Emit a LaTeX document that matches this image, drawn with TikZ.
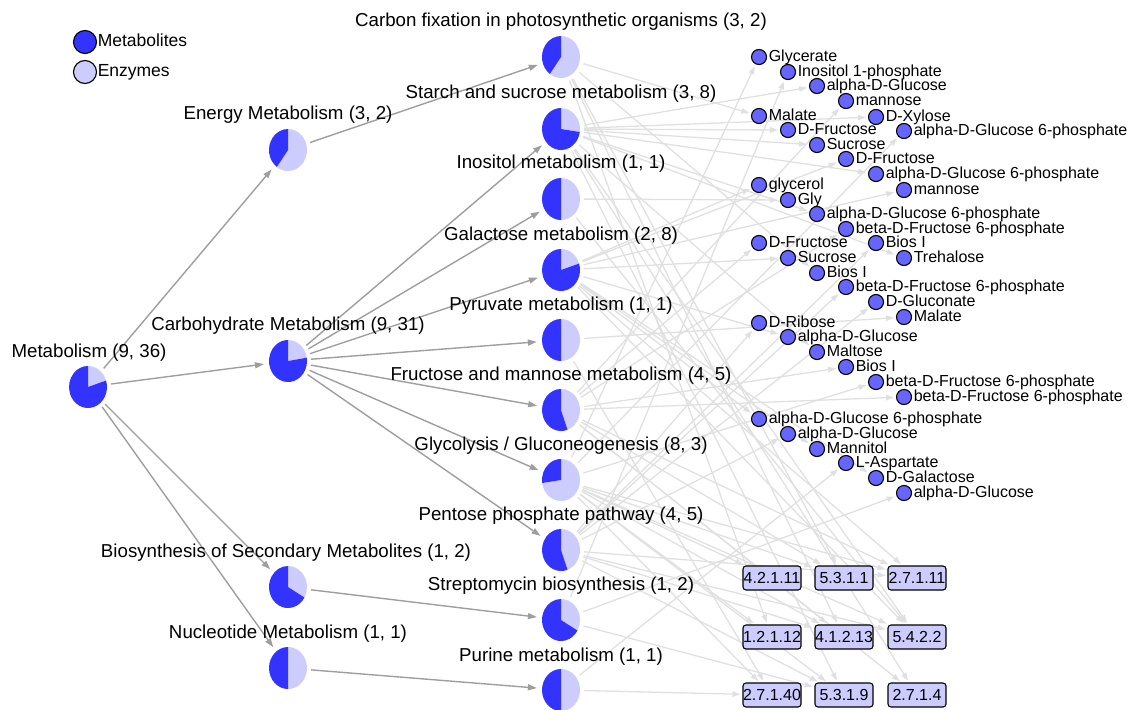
\documentclass[tikz,border=0pt]{standalone}
\usepackage{fontspec}
\setmainfont{Liberation Sans}
\usetikzlibrary{shapes.geometric, arrows.meta}
\pgfdeclarelayer{edges}
\pgfsetlayers{edges,main}
\definecolor{piedark}{HTML}{3333FF}
\definecolor{pielight}{HTML}{CCCCFF}
\definecolor{metfill}{HTML}{6666FF}
\definecolor{catedge}{HTML}{9E9E9E}
\definecolor{liteedge}{HTML}{E0E0E0}

\tikzset{
  pienode/.style={ellipse, minimum width=38pt, minimum height=42pt, inner sep=0pt},
  plabel/.style={font=\fontsize{18.7pt}{20pt}\selectfont, inner sep=0pt},
  met/.style={circle, draw=black, line width=1.1pt, fill=metfill, minimum size=15pt, inner sep=0pt},
  mlab/.style={font=\fontsize{16pt}{17pt}\selectfont, inner sep=0pt, label distance=1.5pt,
               text height=11.5pt, text depth=3.4pt},
  enz/.style={rectangle, rounded corners=3pt, draw=black, line width=1.1pt, fill=pielight,
              minimum width=58pt, minimum height=24pt, inner sep=0pt,
              font=\fontsize{16pt}{17pt}\selectfont},
  legdot/.style={circle, draw=black, line width=1.1pt, minimum size=23pt, inner sep=0pt},
  leglab/.style={font=\fontsize{17.5pt}{19pt}\selectfont, inner sep=0pt, anchor=west,
                 text height=12.5pt, text depth=3.7pt},
  catarrow/.style={draw=catedge, line width=1.4pt, -{Triangle[length=9pt, width=6pt]},
                   shorten <=4pt, shorten >=5pt},
  litearrow/.style={draw=liteedge, line width=1.3pt, -{Triangle[length=8pt, width=5.5pt]},
                    shorten <=4pt, shorten >=2pt},
}

% pie: light wedge (enzymes) clockwise from the top, dark wedge (metabolites) for the rest
\newcommand\drawpie[2]{%
  \fill[pielight] (#1.center) -- +(90:19pt and 21pt)
    arc[start angle=90, delta angle=-#2, x radius=19pt, y radius=21pt] -- cycle;
  \fill[piedark] (#1.center) -- +(90-#2:19pt and 21pt)
    arc[start angle=90-#2, end angle=-270, x radius=19pt, y radius=21pt] -- cycle;
}

\begin{document}
\begin{tikzpicture}[x=1pt, y=-1pt]
\useasboundingbox (0,0) rectangle (1134,709);

% legend
\node[legdot, fill=piedark] (legm) at (85,42) {};
\node[leglab] (legmt) at ([xshift=0.5pt]legm.east) {Metabolites};
\node[legdot, fill=pielight] (lege) at (85,72) {};
\node[leglab] (leget) at ([xshift=0.5pt]lege.east) {Enzymes};

% pathway hierarchy (pie nodes)
\foreach \n/\x/\y in {MET/88/387, EN/288/150, CA/288/361, BS/288/587, NU/288/668,
    CF/561/57, ST/561/129, IN/561/199, GA/561/270, PY/561/340, FM/561/410,
    GL/561/480, PP/561/550, SB/561/620, PU/561/690}
  \node[pienode] (\n) at (\x,\y) {};

\drawpie{MET}{72}
\drawpie{EN}{216}
\drawpie{CA}{81}
\drawpie{BS}{120}
\drawpie{NU}{180}
\drawpie{CF}{216}
\drawpie{ST}{98.18}
\drawpie{IN}{180}
\drawpie{GA}{72}
\drawpie{PY}{180}
\drawpie{FM}{160}
\drawpie{GL}{261.8}
\drawpie{PP}{160}
\drawpie{SB}{120}
\drawpie{PU}{180}

% pathway labels
\node[plabel] (METl) at (89,353) {Metabolism (9, 36)};
\node[plabel] (ENl) at (288,115) {Energy Metabolism (3, 2)};
\node[plabel] (CAl) at (288,326) {Carbohydrate Metabolism (9, 31)};
\node[plabel] (BSl) at (286,553) {Biosynthesis of Secondary Metabolites (1, 2)};
\node[plabel] (NUl) at (288,634) {Nucleotide Metabolism (1, 1)};
\node[plabel] (CFl) at (561,22) {Carbon fixation in photosynthetic organisms (3, 2)};
\node[plabel] (STl) at (561,94) {Starch and sucrose metabolism (3, 8)};
\node[plabel] (INl) at (561,164) {Inositol metabolism (1, 1)};
\node[plabel] (GAl) at (561,236) {Galactose metabolism (2, 8)};
\node[plabel] (PYl) at (561,306) {Pyruvate metabolism (1, 1)};
\node[plabel] (FMl) at (561,376) {Fructose and mannose metabolism (4, 5)};
\node[plabel] (GLl) at (561,446) {Glycolysis / Gluconeogenesis (8, 3)};
\node[plabel] (PPl) at (561,516) {Pentose phosphate pathway (4, 5)};
\node[plabel] (SBl) at (561,586) {Streptomycin biosynthesis (1, 2)};
\node[plabel] (PUl) at (561,657) {Purine metabolism (1, 1)};

% metabolites
\foreach \n/\x/\y/\t in {
    m11/759/57/Glycerate, m12/788/72/Inositol 1-phosphate, m13/817/86/alpha-D-Glucose,
    m14/846/101/mannose, m15/876/117/D-Xylose, m16/904/131/alpha-D-Glucose 6-phosphate,
    m21/759/116/Malate, m22/788/130/D-Fructose, m23/817/145/Sucrose,
    m24/846/159/D-Fructose, m25/876/174/alpha-D-Glucose 6-phosphate, m26/904/190/mannose,
    m31/759/185/glycerol, m32/788/200/Gly, m33/817/214/alpha-D-Glucose 6-phosphate,
    m34/846/229/beta-D-Fructose 6-phosphate, m35/876/243/Bios I, m36/904/258/Trehalose,
    m41/759/243/D-Fructose, m42/788/258/Sucrose, m43/817/273/Bios I,
    m44/846/287/beta-D-Fructose 6-phosphate, m45/876/302/D-Gluconate, m46/904/317/Malate,
    m51/759/323/D-Ribose, m52/788/337/alpha-D-Glucose, m53/817/352/Maltose,
    m54/846/367/Bios I, m55/876/382/beta-D-Fructose 6-phosphate, m56/904/397/beta-D-Fructose 6-phosphate,
    m61/759/419/alpha-D-Glucose 6-phosphate, m62/788/434/alpha-D-Glucose, m63/817/449/Mannitol,
    m64/846/463/L-Aspartate, m65/876/478/D-Galactose, m66/904/493/alpha-D-Glucose}
  \node[met, label={[mlab]right:\t}] (\n) at (\x,\y) {};

% enzymes
\foreach \n/\x/\y/\t in {
    e11/772/578/4.2.1.11, e12/844/578/5.3.1.1, e13/917/578/2.7.1.11,
    e21/772/637/1.2.1.12, e22/844/637/4.1.2.13, e23/917/637/5.4.2.2,
    e31/772/695/2.7.1.40, e32/844/695/5.3.1.9, e33/917/695/2.7.1.4}
  \node[enz] (\n) at (\x,\y) {\t};

\begin{pgfonlayer}{edges}
  % pathway -> metabolite / enzyme
  \foreach \s/\t in {
      CF/m21, CF/m43, CF/e12, CF/e22, CF/e21,
      ST/m15, ST/m22, ST/m23, ST/m13, ST/m36, ST/m53, ST/m33, ST/m25, ST/e23, ST/e32, ST/e33,
      IN/m32, IN/e23,
      GA/m65, GA/m31, GA/m42, GA/m52, GA/m63, GA/m24, GA/m26, GA/m61, GA/e23, GA/e13,
      PY/m46, PY/e31,
      FM/m14, FM/m41, FM/m34, FM/m54, FM/m56, FM/e13, FM/e22, FM/e12, FM/e33,
      GL/m11, GL/m16, GL/m55, GL/e11, GL/e12, GL/e21, GL/e22, GL/e23, GL/e31, GL/e32, GL/e13,
      PP/m51, PP/m45, PP/m44, PP/m35, PP/m62, PP/e13, PP/e22, PP/e32, PP/e23,
      SB/m12, SB/m66, SB/e32,
      PU/m64, PU/e31}
    \draw[litearrow] (\s) -- (\t);
  % hierarchy
  \foreach \s/\t in {MET/EN, MET/CA, MET/BS, MET/NU, EN/CF,
      CA/ST, CA/IN, CA/GA, CA/PY, CA/FM, CA/GL, CA/PP, BS/SB, NU/PU}
    \draw[catarrow] (\s) -- (\t);
\end{pgfonlayer}
\end{tikzpicture}
\end{document}
